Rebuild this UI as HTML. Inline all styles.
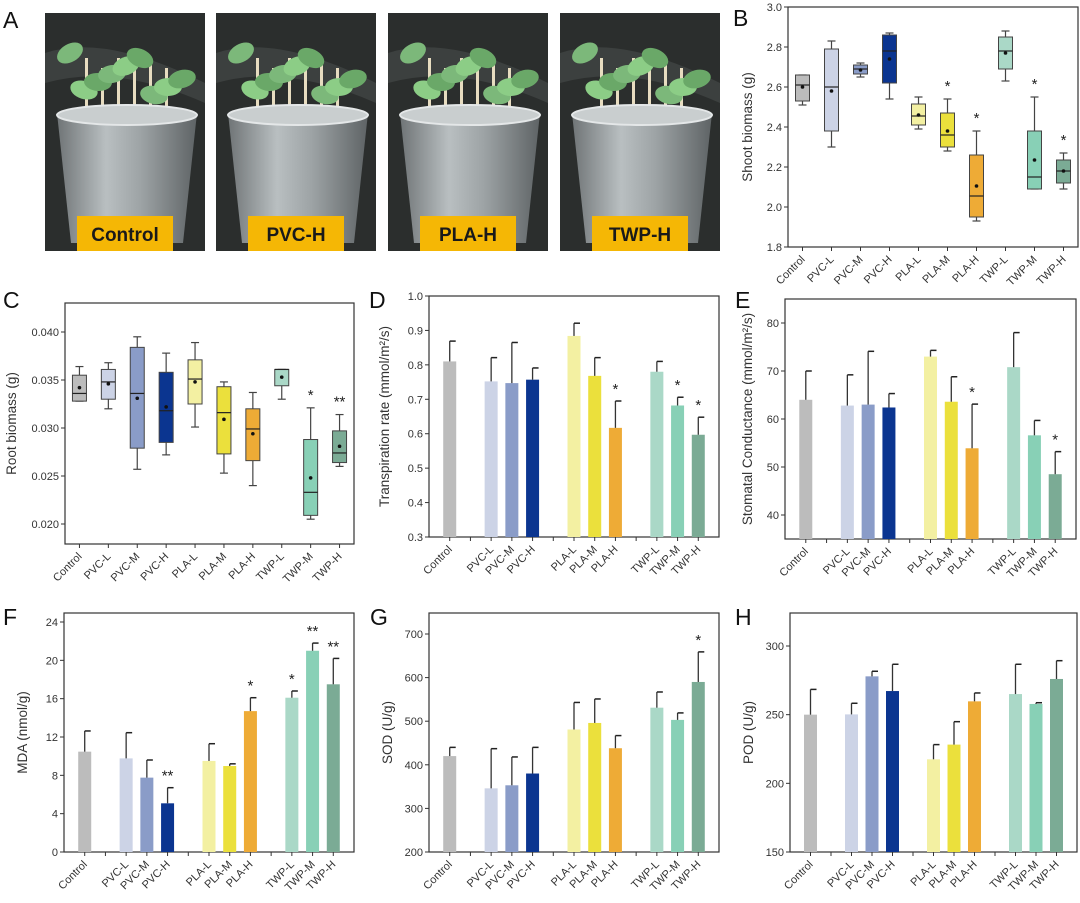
<!DOCTYPE html>
<html><head><meta charset="utf-8"><style>
body{margin:0;background:#fff;}
svg{display:block;font-family:"Liberation Sans",Arial,sans-serif;}
</style></head><body>
<svg id="fig" width="1080" height="903" viewBox="0 0 1080 903" xmlns="http://www.w3.org/2000/svg">
<defs>
<linearGradient id="pot" x1="0" x2="1" y1="0" y2="0">
<stop offset="0" stop-color="#6f7476"/><stop offset="0.35" stop-color="#b9bfc1"/><stop offset="0.6" stop-color="#9da3a5"/><stop offset="1" stop-color="#5e6365"/>
</linearGradient>
</defs>
<g id="photos"></g>
<g id="charts"></g>
</svg>
<script>
const NS="http://www.w3.org/2000/svg";
const svg=document.getElementById('fig');
function mk(tag,attrs,parent,txt){const e=document.createElementNS(NS,tag);for(const k in attrs)e.setAttribute(k,attrs[k]);if(txt!==undefined)e.textContent=txt;(parent||svg).appendChild(e);return e;}

const categories=["Control","PVC-L","PVC-M","PVC-H","PLA-L","PLA-M","PLA-H","TWP-L","TWP-M","TWP-H"];
const colors=["#bcbcbc","#ccd3e6","#8a9cc8","#0b3590","#f3f0a2","#ebe03c","#eeab36","#aad8c7","#88d0b6","#7bab95"];

// Shoot biomass box stats: [whiskerLow, q1, median, q3, whiskerHigh, mean]
const shootLow=[2.51,2.30,2.65,2.54,2.39,2.28,1.93,2.63,2.09,2.09];
const shootQ1=[2.53,2.38,2.665,2.62,2.41,2.30,1.95,2.69,2.09,2.12];
const shootMed=[2.61,2.60,2.69,2.78,2.455,2.36,2.055,2.78,2.15,2.18];
const shootQ3=[2.66,2.79,2.71,2.86,2.515,2.47,2.26,2.85,2.38,2.235];
const shootHigh=[2.66,2.83,2.72,2.87,2.55,2.54,2.38,2.88,2.55,2.27];
const shootMean=[2.60,2.58,2.685,2.74,2.46,2.38,2.105,2.77,2.235,2.18];
const shootSig=["","","","","","*","*","","*","*"];

const rootLow=[0.0328,0.0320,0.0257,0.0272,0.0301,0.0253,0.0240,0.0330,0.0205,0.0260];
const rootQ1=[0.0328,0.0330,0.0279,0.0285,0.0325,0.0273,0.0266,0.0344,0.0209,0.0264];
const rootMed=[0.0336,0.0348,0.0336,0.0318,0.0351,0.0316,0.0299,0.0361,0.0233,0.0274];
const rootQ3=[0.0355,0.0361,0.0384,0.0358,0.0371,0.0343,0.0320,0.0361,0.0288,0.0297];
const rootHigh=[0.0364,0.0368,0.0395,0.0378,0.0389,0.0348,0.0337,0.0361,0.0321,0.0314];
const rootMean=[0.0342,0.0346,0.0331,0.0322,0.0348,0.0309,0.0294,0.0353,0.0248,0.0281];
const rootSig=["","","","","","","","","*","**"];

const transMean=[0.810,0.752,0.747,0.757,0.884,0.768,0.617,0.780,0.682,0.597];
const transErr=[0.059,0.069,0.118,0.034,0.037,0.053,0.078,0.030,0.024,0.051];
const transSig=["","","","","","","*","","*","*"];

const stomMean=[64.0,62.8,63.0,62.4,73.0,63.6,53.9,70.8,56.6,48.5];
const stomErr=[6.0,6.4,11.1,2.9,1.3,5.2,9.2,7.2,3.1,4.7];
const stomSig=["","","","","","","*","","","*"];

const mdaMean=[10.47,9.77,7.76,5.08,9.5,8.97,14.7,16.1,21.0,17.5];
const mdaErr=[2.16,2.68,1.84,1.63,1.8,0.23,1.4,0.7,0.8,2.7];
const mdaSig=["","","","**","","","*","*","**","**"];

const sodMean=[420,346,353,380,481,496,438,531,503,590];
const sodErr=[20,91,65,60,62,55,29,36,16,69];
const sodSig=["","","","","","","","","","*"];

const podMean=[250,250.2,277.9,267.2,217.5,228.2,259.7,265,257.8,276];
const podErr=[18.4,8.1,3.7,19.5,10.7,16.7,6.1,21.7,0.9,13.3];
const podSig=["","","","","","","","","",""];

const shootTicks=[1.8,2.0,2.2,2.4,2.6,2.8,3.0];
const rootTicks=[0.020,0.025,0.030,0.035,0.040];
const transTicks=[0.3,0.4,0.5,0.6,0.7,0.8,0.9,1.0];
const stomTicks=[40,50,60,70,80];
const mdaTicks=[0,4,8,12,16,20,24];
const sodTicks=[200,300,400,500,600,700];
const podTicks=[150,200,250,300];

// ---------- photos ----------
const photoG=document.getElementById('photos');
const photoLabels=["Control","PVC-H","PLA-H","TWP-H"];
const photoX=[45,216,388,560];
photoLabels.forEach((lab,i)=>{
  const x=photoX[i],w=160,y=13,h=238;
  const g=mk('g',{},photoG);
  
  
  mk('rect',{x:x,y:y,width:w,height:h,fill:'#2b2e2d'},g);
  mk('path',{d:`M${x} ${y+40} Q${x+60} ${y+20} ${x+w} ${y+70} L${x+w} ${y+90} Q${x+70} ${y+50} ${x} ${y+70}Z`,fill:'#3c403f'},g);
  // stems
  for(let s=0;s<6;s++){mk('rect',{x:x+40+s*16,y:y+45+(s%2)*10,width:3,height:80,fill:'#e7dcc0'},g);}
  // leaves
  const lc=['#7cb87a','#8ccd86','#6aa868'];
  for(let l=0;l<9;l++){mk('ellipse',{cx:x+25+l*14,cy:y+40+((l*37)%45),rx:14,ry:9,fill:lc[l%3],transform:`rotate(${(l*47)%60-30} ${x+25+l*14} ${y+40+((l*37)%45)})`},g);}
  // pot
  mk('path',{d:`M${x+12} ${y+100} L${x+w-8} ${y+100} L${x+w-22} ${y+230} L${x+26} ${y+230}Z`,fill:'url(#pot)'},g);
  mk('ellipse',{cx:x+w/2+2,cy:y+102,rx:(w-20)/2,ry:10,fill:'#c9cecf',stroke:'#e4e7e8','stroke-width':2},g);
  mk('rect',{x:x+32,y:216,width:96,height:35,fill:'#f5b705'},g);
  const t=mk('text',{x:x+80,y:241,'text-anchor':'middle','font-size':19,'font-weight':'bold',fill:'#1a1a1a'},g,lab);
  
  
});

// ---------- chart helpers ----------
function panel(cfg){
  const g=mk('g',{},document.getElementById('charts'));
  
  
  const [v0,p0,v1,p1]=cfg.scale;
  const y=v=>p0+(v-v0)*(p1-p0)/(v1-v0);
  const L=cfg.left,R=cfg.right,T=cfg.top,B=cfg.bottom;
  const fr=mk('rect',{x:L,y:T,width:R-L,height:B-T,fill:'none',stroke:'#333','stroke-width':1.2},g);
  
  
  cfg.ticks.forEach(t=>{
    mk('line',{x1:L-4,x2:L,y1:y(t),y2:y(t),stroke:'#333','stroke-width':1},g);
    const tl=mk('text',{x:L-6,y:y(t)+4,'text-anchor':'end','font-size':11,fill:'#333'},g,t.toFixed(cfg.dec));
    
    
  });
  const at=mk('text',{x:cfg.titleX,y:(T+B)/2,'text-anchor':'middle','font-size':13.5,fill:'#333',transform:`rotate(-90 ${cfg.titleX} ${(T+B)/2})`},g);
  at.textContent=cfg.title;
  
  
  const pl=mk('text',{x:cfg.letter[1],y:cfg.letter[2],'font-size':23,fill:'#111'},g,cfg.letter[0]);
  
  
  let xs;
  if(cfg.type==='box'){
    const sw=(R-L)/10; xs=categories.map((c,i)=>L+(i+0.5)*sw);
    xs.forEach(x=>mk('line',{x1:x,x2:x,y1:B,y2:B+4,stroke:'#333'},g));
  } else {
    const sw=(R-L)/14; const slots=[1,3,4,5,7,8,9,11,12,13];
    xs=slots.map(s=>L+s*sw);
    for(let s=1;s<14;s++)mk('line',{x1:L+s*sw,x2:L+s*sw,y1:B,y2:B+4,stroke:'#333'},g);
  }
  categories.forEach((c,i)=>{
    const tx=xs[i]+3,ty=B+13;
    const t=mk('text',{x:tx,y:ty,'text-anchor':'end','font-size':11,fill:'#333',transform:`rotate(-45 ${tx} ${ty})`},g,c);
    
    
  });
  return {g,y,xs};
}

function boxChart(cfg,low,q1,med,q3,high,mean,sig){
  const {g,y,xs}=panel(cfg);
  const bw=14;
  categories.forEach((c,i)=>{
    const x=xs[i];
    const bg=mk('g',{},g);
    
    
    mk('line',{x1:x,x2:x,y1:y(high[i]),y2:y(low[i]),stroke:'#444','stroke-width':1.2},bg);
    mk('line',{x1:x-4,x2:x+4,y1:y(high[i]),y2:y(high[i]),stroke:'#444','stroke-width':1.2},bg);
    mk('line',{x1:x-4,x2:x+4,y1:y(low[i]),y2:y(low[i]),stroke:'#444','stroke-width':1.2},bg);
    mk('rect',{x:x-bw/2,y:y(q3[i]),width:bw,height:Math.max(1,y(q1[i])-y(q3[i])),fill:colors[i],stroke:'#444','stroke-width':1},bg);
    mk('line',{x1:x-bw/2,x2:x+bw/2,y1:y(med[i]),y2:y(med[i]),stroke:'#222','stroke-width':1.2},bg);
    mk('circle',{cx:x,cy:y(mean[i]),r:1.8,fill:'#111'},bg);
    if(sig[i]){const s=mk('text',{x:x,y:y(high[i])-8,'text-anchor':'middle','font-size':15,fill:'#222'},g,sig[i]);
      
      }
  });
}

function barChart(cfg,mean,err,sig){
  const {g,y,xs}=panel(cfg);
  const bw=13;
  categories.forEach((c,i)=>{
    const x=xs[i];
    const b=mk('rect',{x:x-bw/2,y:y(mean[i]),width:bw,height:cfg.bottom-y(mean[i]),fill:colors[i]},g);
    
    
    const top=y(mean[i]+err[i]);
    const e1=mk('line',{x1:x,x2:x,y1:y(mean[i]),y2:top,stroke:'#333','stroke-width':1.3},g);
    
    
    mk('line',{x1:x,x2:x+6,y1:top,y2:top,stroke:'#222','stroke-width':1.5},g);
    if(sig[i]){const s=mk('text',{x:x,y:top-7,'text-anchor':'middle','font-size':15,fill:'#222'},g,sig[i]);
      
      }
  });
}

boxChart({name:'shoot-biomass-chart',type:'box',left:788,right:1078,top:7,bottom:247,scale:[1.8,247,3.0,7],ticks:shootTicks,dec:1,title:'Shoot biomass (g)',titleX:752,letter:['B',733,26]},
  shootLow,shootQ1,shootMed,shootQ3,shootHigh,shootMean,shootSig);
boxChart({name:'root-biomass-chart',type:'box',left:65,right:354,top:303,bottom:544,scale:[0.020,524,0.040,332],ticks:rootTicks,dec:3,title:'Root biomass (g)',titleX:16,letter:['C',3,308]},
  rootLow,rootQ1,rootMed,rootQ3,rootHigh,rootMean,rootSig);
barChart({name:'transpiration-chart',type:'bar',left:429,right:719,top:296,bottom:537,scale:[0.3,537,1.0,296],ticks:transTicks,dec:1,title:'Transpiration rate (mmol/m²/s)',titleX:389,letter:['D',369,308]},transMean,transErr,transSig);
barChart({name:'stomatal-conductance-chart',type:'bar',left:785,right:1076,top:299,bottom:539,scale:[40,515,80,323],ticks:stomTicks,dec:0,title:'Stomatal Conductance (mmol/m²/s)',titleX:752,letter:['E',735,308]},stomMean,stomErr,stomSig);
barChart({name:'mda-chart',type:'bar',left:64,right:354,top:613,bottom:852,scale:[0,852,24,622],ticks:mdaTicks,dec:0,title:'MDA (nmol/g)',titleX:27,letter:['F',3,625]},mdaMean,mdaErr,mdaSig);
barChart({name:'sod-chart',type:'bar',left:429,right:719,top:613,bottom:852,scale:[200,852,700,634],ticks:sodTicks,dec:0,title:'SOD (U/g)',titleX:392,letter:['G',370,625]},sodMean,sodErr,sodSig);
barChart({name:'pod-chart',type:'bar',left:790,right:1077,top:613,bottom:852,scale:[150,852,300,646],ticks:podTicks,dec:0,title:'POD (U/g)',titleX:753,letter:['H',735,625]},podMean,podErr,podSig);

const la=mk('text',{x:3,y:28,'font-size':23,fill:'#111'},svg,'A');


</script>
</body></html>
